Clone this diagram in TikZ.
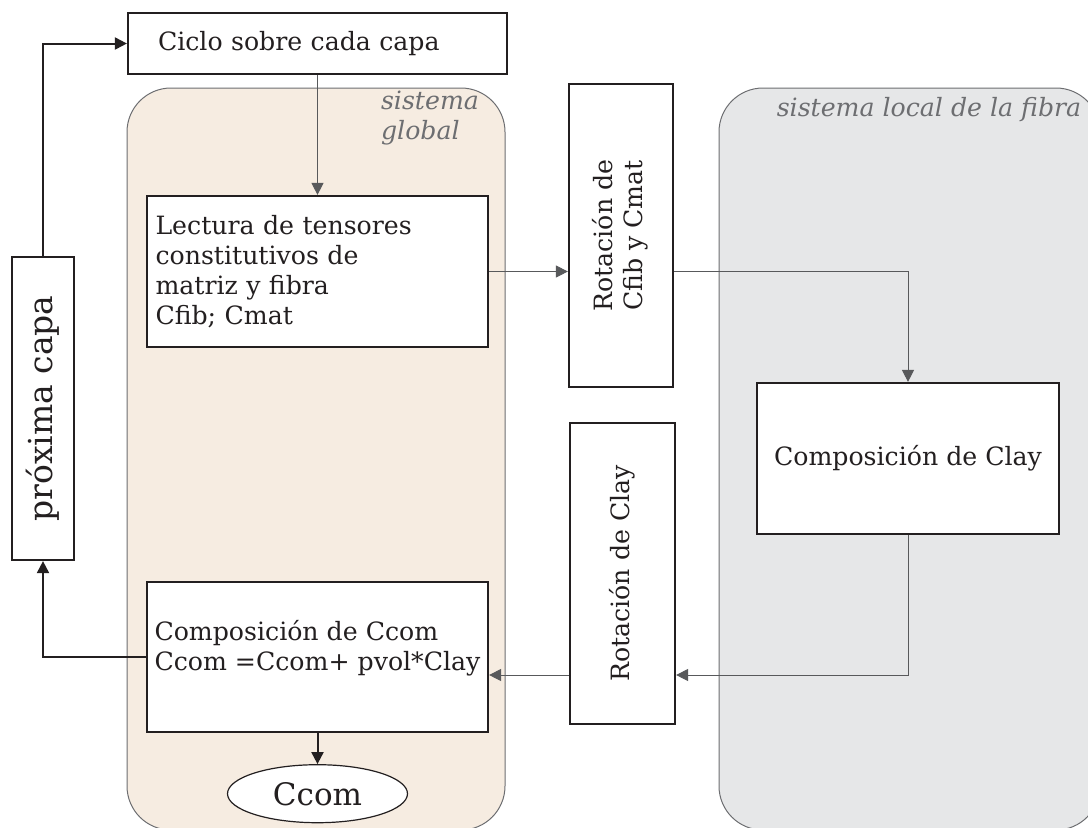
\documentclass[tikz,border=0pt]{standalone}
\usepackage{fontspec}
\setmainfont{DejaVu Serif}
\usetikzlibrary{arrows.meta, positioning, shapes.geometric}

\definecolor{ink}{HTML}{231F20}
\definecolor{wire}{HTML}{58595B}
\definecolor{globalbg}{HTML}{F6ECE1}
\definecolor{localbg}{HTML}{E6E7E8}
\definecolor{paneltext}{HTML}{6D6E71}

\begin{document}
\begin{tikzpicture}[
    x=0.5pt, y=-0.5pt,
    font=\fontsize{12.6}{15}\selectfont, text=ink,
    block/.style={draw=ink, line width=1.1pt, fill=white, inner sep=0pt},
    leftblock/.style={block, align=left, inner xsep=4.25pt},
    panel/.style={draw=paneltext, line width=0.5pt, rounded corners=22pt},
    paneltitle/.style={text=paneltext, font=\fontsize{12.6}{15}\selectfont\itshape, align=left},
    link/.style={draw=wire, line width=0.5pt, -{Triangle[length=6pt, width=6pt]}},
    loop/.style={draw=ink, line width=1pt, -{Triangle[length=6pt, width=6pt]}}
]
    \useasboundingbox (0,0) rectangle (1088,827);
    \clip (0,0) rectangle (1088,827);

    % reference frames
    \draw[panel, fill=globalbg] (127,88) rectangle (505,830);
    \draw[panel, fill=localbg] (719,88) rectangle (1100,830);
    \node[paneltitle] (globaltitle) at (430,118) {sistema\\global};
    \node[paneltitle] (localtitle) at (929,110) {sistema local de la fibra};

    \node[block, align=left, minimum width=189.5pt, minimum height=30.5pt, text width=159.5pt, inner xsep=15pt] (ciclo) at (317.5,43.5) {Ciclo sobre cada capa};
    \node[leftblock, minimum width=170.5pt, minimum height=75.5pt, text width=162pt] (lectura) at (317.5,271.5)
        {Lectura de tensores\\constitutivos de\\matriz y fibra\\Cfib; Cmat};
    \node[block, align=left, minimum width=170.5pt, minimum height=75pt] (ccom) at (317.5,657)
        {Composición de Ccom\\Ccom =Ccom+ pvol*Clay\\[-3pt]};
    \node[draw=ink, line width=0.6pt, fill=white, ellipse, minimum width=90pt, minimum height=29pt, inner sep=0pt,
        font=\fontsize{15.5}{18}\selectfont, below=15.5pt of ccom] (result) {Ccom};

    \node[block, minimum width=31pt, minimum height=151.5pt] (proxima) at (43,408.5)
        {\rotatebox{90}{\fontsize{16.5}{18}\selectfont próxima capa}};
    \node[block, minimum width=52pt, minimum height=151.5pt] (rotcfib) at (621,235.5)
        {\rotatebox{90}{\begin{tabular}{@{}c@{}}Rotación de\\Cfib y Cmat\end{tabular}}};
    \node[block, minimum width=52.5pt, minimum height=150.5pt] (rotclay) at (622.5,573.5)
        {\rotatebox{90}{Rotación de Clay}};
    \node[block, minimum width=151pt, minimum height=75.5pt] (compclay) at (908,458.5) {Composición de Clay};

    \coordinate (ret) at (compclay.south |- 0,675);

    \draw[link] (ciclo.south) -- (lectura.north);
    \draw[link] (lectura.east) -- (lectura.east -| rotcfib.west);
    \draw[link] (lectura.east -| rotcfib.east) -| (compclay.north);
    \draw[link] (compclay.south) -- (ret) -- (rotclay.east |- ret);
    \draw[link] (rotclay.west |- ret) -- (ccom.east |- ret);
    \draw[loop] (ccom.south) -- (result.north);
    \draw[loop] (ccom.west) -| (proxima.south);
    \draw[loop] (proxima.north) |- (ciclo.west);
\end{tikzpicture}
\end{document}
